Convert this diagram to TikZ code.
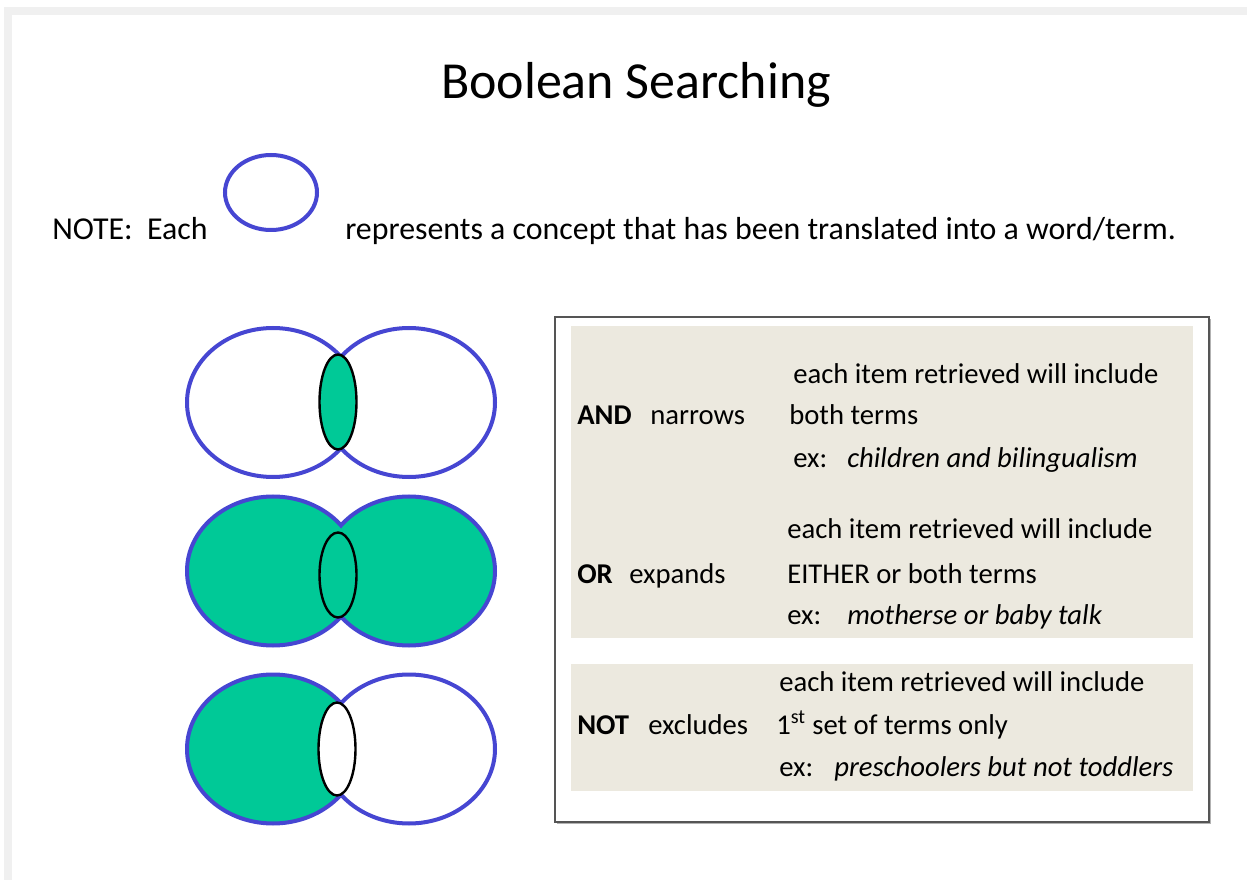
\documentclass[tikz,border=0pt]{standalone}
\usepackage{fontspec}
\setmainfont{Carlito}
\definecolor{vblue}{RGB}{70,70,210}
\definecolor{vgreen}{RGB}{0,201,151}
\definecolor{panel}{RGB}{236,233,223}
\definecolor{framegray}{RGB}{240,240,240}
\definecolor{boxline}{RGB}{85,85,85}
\begin{document}
\begin{tikzpicture}[x=0.75pt,y=-0.75pt,
  vout/.style={draw=vblue, line width=3pt},
  lens/.style={draw=black, line width=1.8pt},
  txt/.style={anchor=base west, inner sep=0pt, font=\fontsize{21.5}{26}\selectfont},
  notetxt/.style={anchor=base west, inner sep=0pt, font=\fontsize{23.9}{28}\selectfont},
  titletxt/.style={anchor=base, inner sep=0pt, font=\fontsize{39}{46}\selectfont}]
\useasboundingbox (0,0) rectangle (1247,884);
\fill[white] (0,0) rectangle (1247,884);
% page shadow
\fill[framegray] (4,7) rectangle (1247,15);
\fill[framegray] (4,7) rectangle (12,880);

% title
\node[titletxt] (title) at (636,99) {Boolean Searching};

% note line
\node[notetxt] (note) at (52,240) {NOTE:\ \ Each};
\draw[vout] (271,192.5) ellipse [x radius=46, y radius=37.5];
\node[notetxt] (rep) at (345,240) {represents a concept that has been translated into a word/term.};

% AND venn
\begin{scope}
  \clip (150,300) rectangle (341,860);
  \draw[vout] (273,402.5) ellipse [x radius=86, y radius=74.5];
  \draw[vout, fill=vgreen] (273,749) ellipse [x radius=86, y radius=74.5];
\end{scope}
\begin{scope}
  \clip (341,300) rectangle (540,860);
  \draw[vout] (409,402.5) ellipse [x radius=86, y radius=74.5];
  \draw[vout] (409,749) ellipse [x radius=86, y radius=74.5];
\end{scope}
\draw[lens, fill=vgreen] (338,402) ellipse [x radius=18.5, y radius=47.5];

% OR venn
\fill[vgreen] (273,571) ellipse [x radius=86, y radius=74.5];
\fill[vgreen] (409,571) ellipse [x radius=86, y radius=74.5];
\begin{scope}
  \clip (150,480) rectangle (341,660);
  \draw[vout] (273,571) ellipse [x radius=86, y radius=74.5];
\end{scope}
\begin{scope}
  \clip (341,480) rectangle (540,660);
  \draw[vout] (409,571) ellipse [x radius=86, y radius=74.5];
\end{scope}
\draw[lens, fill=vgreen] (338,575) ellipse [x radius=18.5, y radius=42.5];

% NOT venn lens
\draw[lens, fill=white] (337,749) ellipse [x radius=18.5, y radius=46.5];

% box
\fill[gray!60] (557,319) rectangle (1211,824);
\draw[boxline, line width=1.2pt, fill=white] (555,317) rectangle (1209,822);
\fill[panel] (571,326) rectangle (1193,638);
\fill[panel] (571,664) rectangle (1193,791);

% AND
\node[txt] (a1) at (793,384) {each item retrieved will include};
\node[txt] (and) at (577,425) {\textbf{AND}};
\node[txt] (andw) at (650,425) {narrows};
\node[txt] (a2) at (789,425) {both terms};
\node[txt] (a3) at (793,468) {ex:};
\node[txt] (a3t) at (847,468) {\textit{children and bilingualism}};

% OR
\node[txt] (o1) at (787,538) {each item retrieved will include};
\node[txt] (or) at (577,583) {\textbf{OR}};
\node[txt] (orw) at (629,583) {expands};
\node[txt] (o2) at (787,583) {EITHER or both terms};
\node[txt] (o3) at (787,624) {ex:};
\node[txt] (o3t) at (847,624) {\textit{motherse or baby talk}};

% NOT
\node[txt] (n1) at (779,691) {each item retrieved will include};
\node[txt] (not) at (577,734) {\textbf{NOT}};
\node[txt] (notw) at (648,734) {excludes};
\node[txt] (n2) at (776,734) {1\textsuperscript{st} set of terms only};
\node[txt] (n3) at (779,776) {ex:};
\node[txt] (n3t) at (834,776) {\textit{preschoolers but not toddlers}};
\end{tikzpicture}
\end{document}
